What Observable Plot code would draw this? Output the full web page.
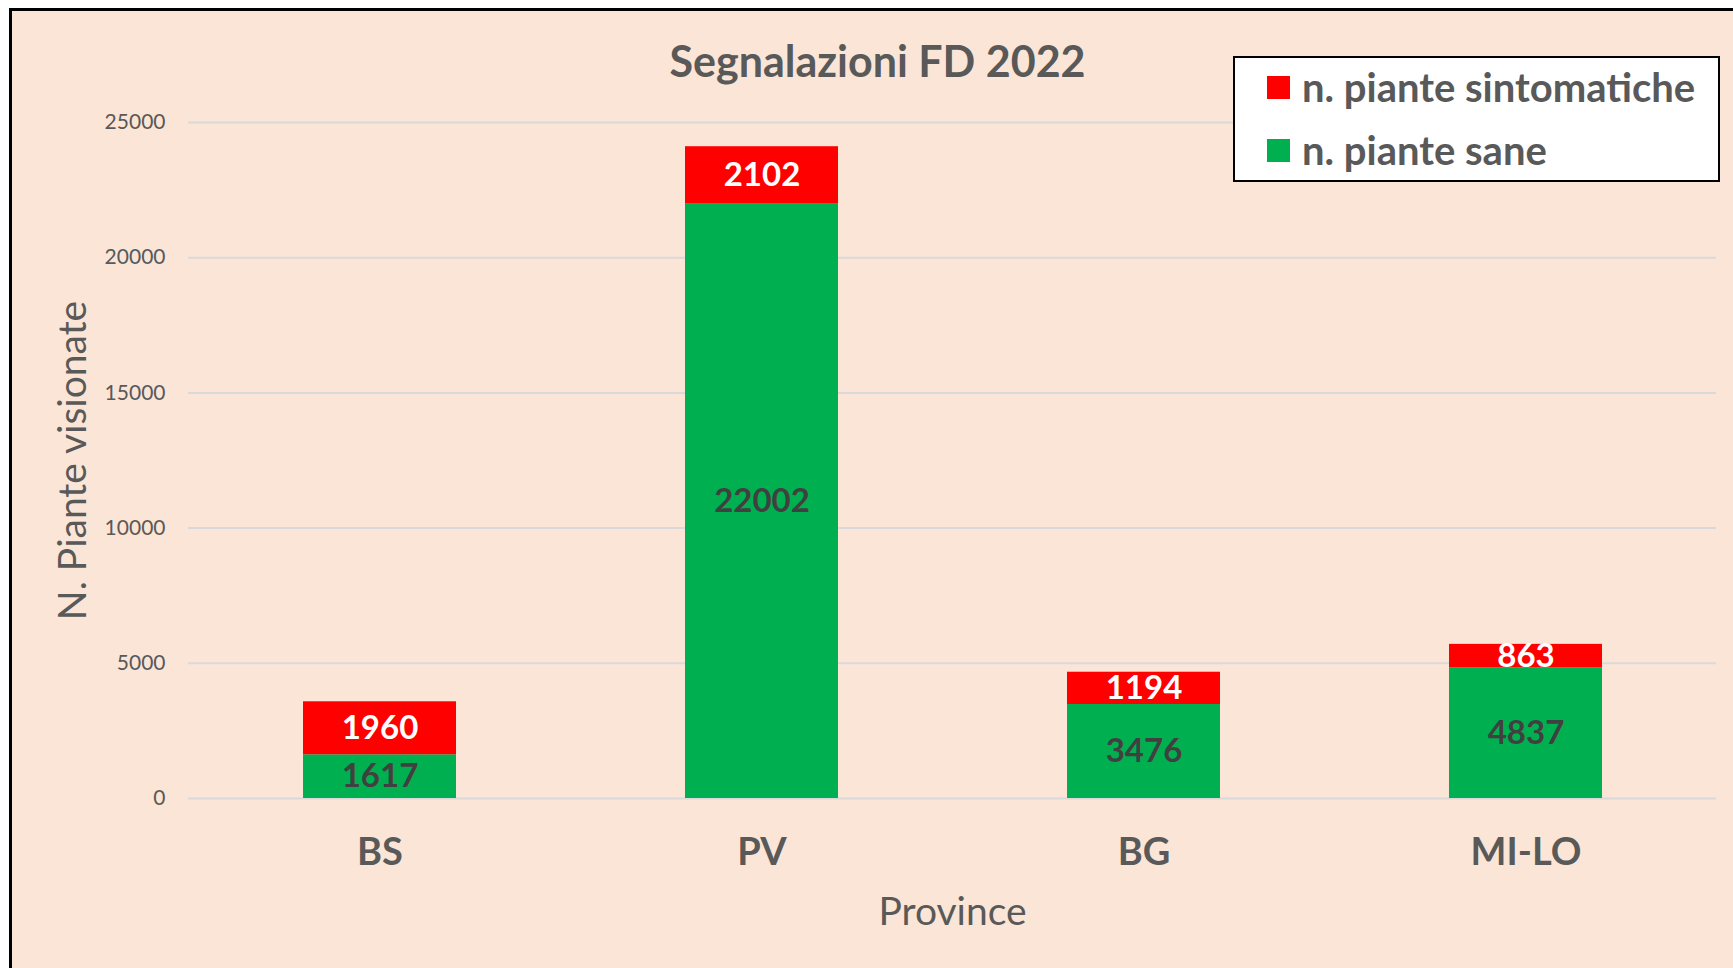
<!DOCTYPE html>
<html><head><meta charset="utf-8">
<script src="https://cdn.jsdelivr.net/npm/d3@7"></script>
<script src="https://cdn.jsdelivr.net/npm/@observablehq/plot@0.6"></script>
<style>
html,body{margin:0;padding:0;background:#fff;width:1733px;height:968px;overflow:hidden;position:relative;}
#frame{position:absolute;left:9px;top:8px;width:1733px;height:968px;background:#FBE5D6;border-top:3px solid #000;border-left:3px solid #000;}
#chart{position:absolute;left:0;top:0;}
#legend{position:absolute;left:1233px;top:56px;width:483px;height:122px;background:#fff;border:2px solid #000;font-family:Lato,sans-serif;font-weight:bold;color:#595959;font-size:40px;}
.item{position:absolute;left:32px;height:40px;display:flex;align-items:center;white-space:nowrap;}
.sw{width:23px;height:23px;margin-right:12px;}
</style>
</head><body>
<div id="frame"></div>
<div id="chart"></div>
<div id="legend"></div>
<script>
const title = "Segnalazioni FD 2022";
const provinces = ["BS", "PV", "BG", "MI-LO"];
const sane = [1617, 22002, 3476, 4837];
const sintomatiche = [1960, 2102, 1194, 863];
const seriesNames = ["n. piante sane", "n. piante sintomatiche"];
const seriesColors = ["#00B050", "#FF0000"];
const yTicks = [0, 5000, 10000, 15000, 20000, 25000];
const xTitle = "Province";
const yTitle = "N. Piante visionate";

const rows = [];
provinces.forEach((p, i) => {
  rows.push({province: p, series: seriesNames[0], value: sane[i]});
  rows.push({province: p, series: seriesNames[1], value: sintomatiche[i]});
});

const chart = Plot.plot({
  width: 1733, height: 968,
  marginTop: 122, marginBottom: 170, marginLeft: 188, marginRight: 17,
  style: {background: "transparent", fontFamily: "Lato, sans-serif", color: "#595959", overflow: "visible"},
  x: {domain: provinces, paddingInner: 0.6, paddingOuter: 0.3, label: null},
  y: {domain: [0, 25000], label: null},
  color: {domain: seriesNames, range: seriesColors},
  marks: [
    Plot.gridY(yTicks, {stroke: "#D9D9D9", strokeOpacity: 1, strokeWidth: 2}),
    Plot.barY(rows, Plot.stackY({x: "province", y: "value", fill: "series"})),
    Plot.text(rows, Plot.stackY({x: "province", y: "value",
      text: d => d.series === seriesNames[0] ? String(d.value) : null,
      fill: "#404040", fontSize: 33, fontWeight: "bold"})),
    Plot.text(rows, Plot.stackY({x: "province", y: "value",
      text: d => d.series === seriesNames[1] ? String(d.value) : null,
      fill: "#FFFFFF", fontSize: 33, fontWeight: "bold"})),
    Plot.axisY(yTicks, {tickSize: 0, tickPadding: 23, fontSize: 21, label: null, tickFormat: d => String(d)}),
    Plot.axisX({tickSize: 0, tickPadding: 40, fontSize: 38, fontWeight: "bold", label: null}),
    Plot.text([yTitle], {text: d => d, frameAnchor: "left", textAnchor: "middle", dx: -115, rotate: -90, fontSize: 39, fill: "#595959"}),
    Plot.text([xTitle], {text: d => d, frameAnchor: "bottom", textAnchor: "middle", dy: 126, fontSize: 39, fill: "#595959"}),
    Plot.text([title], {text: d => d, frameAnchor: "top", textAnchor: "middle", dy: -76, dx: -75, fontSize: 43, fontWeight: "bold", fill: "#595959"})
  ]
});
document.getElementById("chart").appendChild(chart);

const legend = document.getElementById("legend");
const legendOrder = [1, 0];
legendOrder.forEach((k, j) => {
  const it = document.createElement("div");
  it.className = "item";
  it.style.top = (9 + j * 63) + "px";
  const sw = document.createElement("div");
  sw.className = "sw";
  sw.style.background = seriesColors[k];
  const tx = document.createElement("span");
  tx.textContent = seriesNames[k];
  it.appendChild(sw); it.appendChild(tx);
  legend.appendChild(it);
});
</script>
</body></html>
